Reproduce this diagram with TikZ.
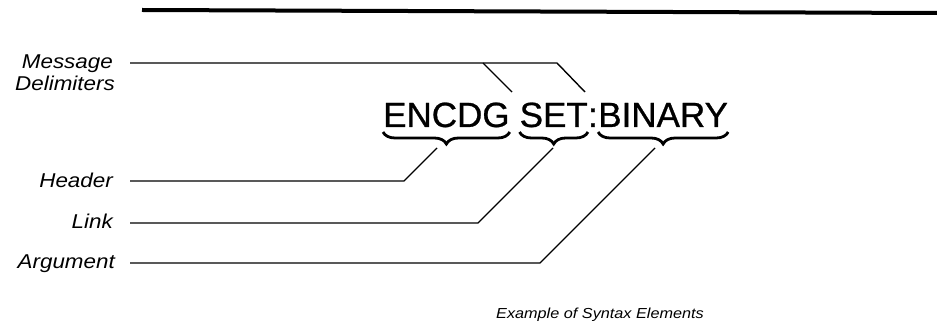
\documentclass[tikz,border=0pt]{standalone}
\usepackage{fontspec}
\setmainfont{Liberation Sans}
\newfontfamily\heavysans[FakeBold=0.8]{Liberation Sans}
\usetikzlibrary{decorations.pathreplacing,calc}
\begin{document}
\begin{tikzpicture}[x=1pt,y=-1pt,
  lbl/.style={font=\fontsize{20}{22}\selectfont\itshape, inner sep=0, anchor=base east},
  captxt/.style={font=\fontsize{14.5}{16}\selectfont\itshape, inner sep=0, anchor=base},
  big/.style={font=\fontsize{35}{40}\selectfont\heavysans, inner sep=0, anchor=base west},
  lead/.style={line width=1.4pt, line join=miter},
  toprule/.style={line width=4pt},
  brc/.style={decorate, decoration={brace, mirror, amplitude=12pt}, line width=2.8pt}]
\useasboundingbox (0,0) rectangle (937,331);
% top rule
\coordinate (r1) at (142,10);
\coordinate (r2) at (937,13);
\draw[toprule] (r1) -- (r2);
% main text
\node[big] (enc) at (383,127) {ENCDG};
\node[big] (set) at ([xshift=9.7pt]enc.base east) {SET};
\node[big] (col) at (set.base east) {:};
\node[big] (bin) at (col.base east) {BINARY};
% braces
\draw[brc] ([yshift=-5pt]enc.base west) -- ([yshift=-5pt]enc.base east);
\draw[brc] ([yshift=-5pt]set.base west) -- ([yshift=-5pt]set.base east);
\draw[brc] ([yshift=-5pt]bin.base west) -- ([yshift=-5pt]bin.base east);
% labels
\node[lbl] (msg) at (113,69) {\scalebox{1.12}[1]{Message}};
\node[lbl] (del) at (115,91) {\scalebox{1.12}[1]{Delimiters}};
\node[lbl] (hdr) at (113,188) {\scalebox{1.12}[1]{Header}};
\node[lbl] (lnk) at (113,229) {\scalebox{1.12}[1]{Link}};
\node[lbl] (arg) at (115,269) {\scalebox{1.12}[1]{Argument}};
\node[captxt] (caption) at (600,318) {\scalebox{1.12}[1]{Example of Syntax Elements}};
% delimiter leaders
\coordinate (mS) at (130,63);
\coordinate (mA) at (483,63);
\coordinate (mB) at (557,63);
\coordinate (dA) at (512,92);
\coordinate (dB) at (585,92);
\draw[lead] (mS) -- (mB) -- (dB);
\draw[lead] (mA) -- (dA);
% element leaders
\coordinate (hS) at (130,181);
\coordinate (hC) at (404,181);
\coordinate (hE) at (437,148);
\draw[lead] (hS) -- (hC) -- (hE);
\coordinate (lS) at (130,223);
\coordinate (lC) at (478,223);
\coordinate (lE) at (553,148);
\draw[lead] (lS) -- (lC) -- (lE);
\coordinate (aS) at (130,263);
\coordinate (aC) at (540,263);
\coordinate (aE) at (655,148);
\draw[lead] (aS) -- (aC) -- (aE);
\end{tikzpicture}
\end{document}
